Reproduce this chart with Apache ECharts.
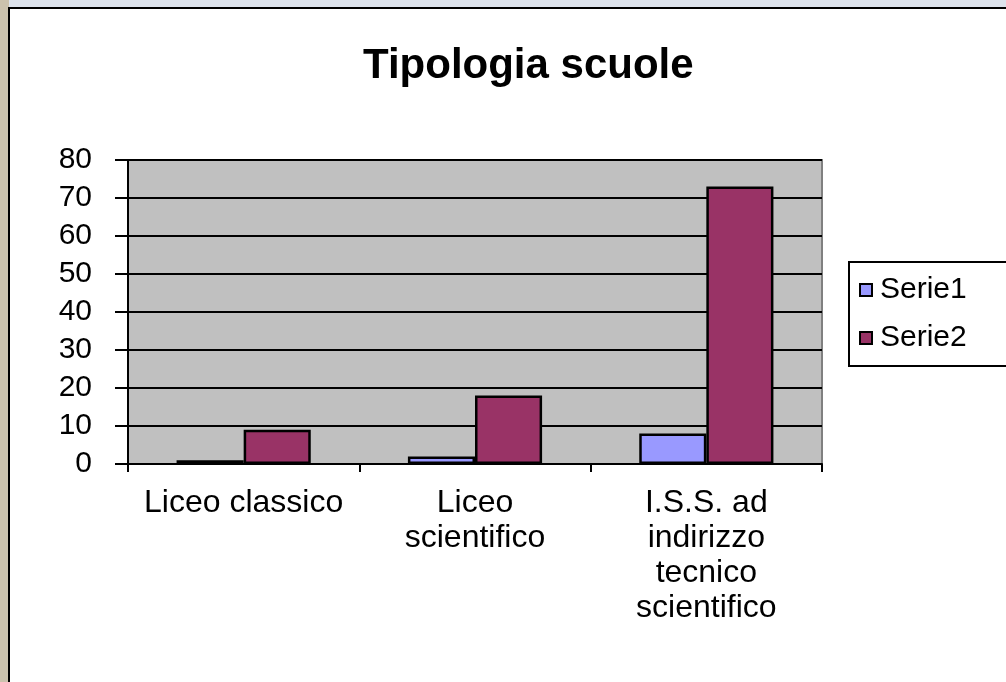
<!DOCTYPE html>
<html>
<head>
<meta charset="utf-8">
<script src="https://cdn.jsdelivr.net/npm/echarts@6/dist/echarts.min.js"></script>
<style>
html,body{margin:0;padding:0;background:#d6d3cc;}
#chart{width:1006px;height:682px;}
</style>
</head>
<body>
<div id="chart"></div>
<script>
var categories = ['Liceo classico', 'Liceo\nscientifico', 'I.S.S. ad\nindirizzo\ntecnico\nscientifico'];
var serie1 = [1, 2, 8];
var serie2 = [9, 18, 73];
var seriesNames = ['Serie1', 'Serie2'];
var titleText = 'Tipologia scuole';

var FONT = 'Liberation Sans, Arial, sans-serif';
var chart = echarts.init(document.getElementById('chart'), null, {renderer: 'canvas'});
chart.setOption({
  backgroundColor: '#d6d3cc',
  animation: false,
  graphic: [
    {type: 'rect', z: -12, shape: {x: 0, y: 0, width: 1006, height: 9},
     style: {fill: '#dde3ec'}},
    {type: 'rect', z: -11, shape: {x: 0, y: 0, width: 9, height: 682},
     style: {fill: '#cbc2ad'}},
    {type: 'rect', z: -10, shape: {x: 9, y: 8, width: 1100, height: 800},
     style: {fill: '#ffffff', stroke: '#000000', lineWidth: 2}}
  ],
  title: {
    text: titleText,
    left: 358, top: 40,
    textStyle: {fontFamily: FONT, fontWeight: 'bold', fontSize: 42, color: '#000'}
  },
  legend: {
    data: seriesNames,
    orient: 'vertical',
    left: 849, top: 262,
    padding: [13, 60, 13, 10],
    itemGap: 18,
    itemWidth: 12, itemHeight: 12,
    icon: 'rect',
    borderColor: '#000', borderWidth: 2,
    backgroundColor: '#fff',
    textStyle: {fontFamily: FONT, fontSize: 30, color: '#000', lineHeight: 30, padding: [0, 0, 0, 3]}
  },
  grid: {
    left: 128, top: 160, width: 694, height: 304,
    show: true, backgroundColor: '#c0c0c0', borderColor: '#808080', borderWidth: 2
  },
  xAxis: {
    type: 'category',
    data: categories,
    axisLine: {lineStyle: {color: '#000', width: 2}},
    axisTick: {show: true, length: 8, lineStyle: {color: '#000', width: 2}},
    axisLabel: {fontFamily: FONT, fontSize: 32, color: '#000', lineHeight: 35, margin: 22, interval: 0}
  },
  yAxis: {
    type: 'value',
    min: 0, max: 80, interval: 10,
    axisLine: {show: true, lineStyle: {color: '#000', width: 2}},
    axisTick: {show: true, length: 13, lineStyle: {color: '#000', width: 2}},
    axisLabel: {fontFamily: FONT, fontSize: 30, color: '#000', margin: 36},
    splitLine: {show: true, lineStyle: {color: '#000', width: 2}}
  },
  series: [
    {name: seriesNames[0], type: 'bar', data: serie1, barGap: '0%', barCategoryGap: '42%',
     itemStyle: {color: '#9999ff', borderColor: '#000', borderWidth: 2.5}},
    {name: seriesNames[1], type: 'bar', data: serie2, barGap: '0%', barCategoryGap: '42%',
     itemStyle: {color: '#993366', borderColor: '#000', borderWidth: 2.5}}
  ]
});
</script>
</body>
</html>
